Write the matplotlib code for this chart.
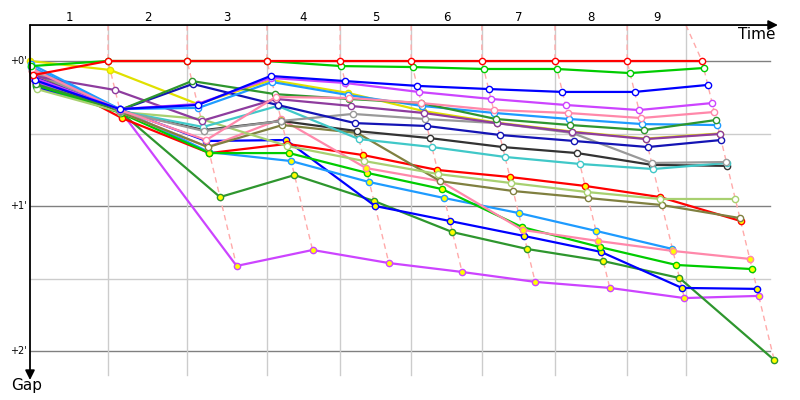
import numpy as np
import matplotlib.pyplot as plt

# leader elapsed time (minutes) at start and at the end of laps 1..9
lap_times = [0.0, 2.23, 4.49, 6.77, 8.86, 10.89, 12.91, 15.0, 17.06, 19.2]
# lap boundaries drawn on the time axis
grid_times = [2.23, 4.49, 6.77, 8.86, 10.89, 12.91, 15.0, 17.06, 18.74]
lap_labels = ['1', '2', '3', '4', '5', '6', '7', '8', '9']
gap_ticks = [0, 1, 2]
gap_tick_labels = ["+0'", "+1'", "+2'"]

# gap to leader in seconds: start, lap 1 .. lap 9
red = [5.8, 0, 0, 0, 0, 0, 0, 0, 0, 0]
green = [2.1, 0, 0, 0, 2.1, 2.5, 3.3, 3.3, 5.0, 2.9]
blue = [7.9, 19.9, 18.2, 6.2, 8.3, 10.3, 11.6, 12.8, 12.8, 9.9]
violet = [7.0, 19.9, 17.8, 7.0, 9.1, 12.8, 15.7, 18.2, 20.3, 17.4]
yellow = [0.0, 3.7, 17.8, 7.9, 13.2, 20.7, 25.5, 29.2, 32.1, 30.0]
pink = [3.3, 20.3, 32.7, 14.9, 15.3, 17.4, 20.3, 21.5, 23.6, 21.1]
lightblue = [1.2, 19.9, 19.4, 8.7, 14.1, 18.6, 21.5, 24.0, 26.1, 26.5]
darkgreen = [9.5, 20.3, 8.3, 13.7, 15.7, 17.4, 24.0, 26.5, 28.6, 24.4]
purple = [6.2, 12.0, 24.8, 15.7, 18.6, 21.5, 25.7, 29.4, 32.3, 30.2]
navy = [6.6, 20.3, 9.5, 18.2, 25.7, 26.9, 30.6, 33.1, 35.6, 32.7]
grey = [4.6, 20.7, 29.0, 24.8, 21.9, 24.0, 25.7, 29.8, 42.2, 41.8]
black = [7.4, 20.7, 28.6, 24.8, 29.0, 31.9, 35.6, 38.1, 43.0, 43.4]
cyan = [3.7, 20.7, 27.3, 18.6, 32.3, 35.6, 39.7, 42.6, 44.7, 42.2]
lightgreen = [11.6, 21.1, 24.0, 35.2, 41.4, 46.8, 50.5, 54.2, 57.1, 57.1]
olive = [5.0, 21.1, 35.6, 26.5, 29.8, 49.7, 53.8, 56.7, 59.6, 65.0]
red2 = [4.1, 23.6, 38.1, 34.3, 38.9, 45.1, 48.0, 51.7, 56.3, 66.2]
pink2 = [5.4, 21.1, 35.6, 24.0, 44.3, 49.7, 69.9, 74.5, 78.6, 81.9]
green2 = [9.9, 21.5, 38.1, 38.1, 46.3, 53.0, 68.7, 77.0, 84.4, 86.1]
lightblue2 = [2.5, 19.9, 37.7, 41.4, 50.1, 56.7, 62.9, 70.3, 77.8, np.nan]
blue2 = [11.2, 19.9, 33.1, 32.7, 60.0, 66.2, 72.4, 79.0, 93.9, 94.3]
darkgreen2 = [10.3, 21.1, 56.3, 47.2, 57.9, 70.8, 77.8, 82.8, 89.8, 123.7]
violet2 = [8.7, 20.3, 84.8, 78.2, 83.6, 87.3, 91.4, 93.9, 98.1, 97.2]

# (gaps, line colour, marker fill) - drawn bottom of the field first
drivers = [
    (violet2, '#cc44ff', '#ffff00'),
    (darkgreen2, '#2e962e', '#ffff00'),
    (blue2, '#0000ff', '#ffff00'),
    (red2, '#ff0000', '#ffff00'),
    (lightblue2, '#1e9bff', '#ffff00'),
    (green2, '#00cc00', '#ffff00'),
    (pink2, '#ff88aa', '#ffff00'),
    (olive, '#808040', 'white'),
    (lightgreen, '#a8d070', 'white'),
    (black, '#333333', 'white'),
    (cyan, '#40c8c8', 'white'),
    (yellow, '#e0e000', '#ffff00'),
    (grey, '#999999', 'white'),
    (navy, '#1414b4', 'white'),
    (purple, '#8e3c9e', 'white'),
    (lightblue, '#1e9bff', 'white'),
    (darkgreen, '#2e962e', 'white'),
    (pink, '#ff88aa', 'white'),
    (violet, '#cc44ff', 'white'),
    (blue, '#0000ff', 'white'),
    (green, '#00cc00', 'white'),
    (red, '#ff0000', 'white'),
]

t_end = 21.37      # time axis arrow tip
grid_end = 21.14   # horizontal grid extent
gap_top = -0.248   # time axis sits above gap 0
gap_bottom = 2.166

fig = plt.figure(figsize=(8, 4), dpi=100)
ax = fig.add_axes([0, 0, 1, 1])
ax.set_xlim(-30 / 35, 770 / 35)
ax.set_ylim(339 / 145, -61 / 145)
ax.axis('off')

# grid
for g in [0.5, 1.5]:
    ax.plot([0, grid_end], [g, g], color='#cccccc', lw=1, zorder=1)
for g in gap_ticks:
    ax.plot([0, grid_end], [g, g], color='#808080', lw=1, zorder=1)
for t in grid_times:
    ax.plot([t, t], [gap_top, gap_bottom], color='#cccccc', lw=1, zorder=1)

# convert to minutes
tt = np.array(lap_times)
pts = []
for gaps, col, fill in drivers:
    g = np.array(gaps, dtype=float) / 60.0
    pts.append((tt + g, g))

# dashed lap lines linking each lap's points in gap order
for k in range(1, len(lap_times)):
    xs, ys = [], []
    for x, g in pts:
        if not np.isnan(g[k]):
            xs.append(x[k])
            ys.append(g[k])
    order = np.argsort(ys)
    lx = [grid_times[k - 1]] + [xs[i] for i in order]
    ly = [gap_top] + [ys[i] for i in order]
    ax.plot(lx, ly, color='#ffaaaa', lw=1, ls=(0, (4, 3)), zorder=2)

for (x, g), (gaps, col, fill) in zip(pts, drivers):
    ax.plot(x, g, color=col, lw=1.6, marker='o', ms=4.5, mfc=fill,
            mec=col, mew=1, zorder=3)

# axes with arrows
ax.annotate('', xy=(t_end, gap_top), xytext=(0, gap_top),
            arrowprops=dict(arrowstyle='-|>', color='black', lw=1.3,
                            mutation_scale=14, shrinkA=0, shrinkB=0), zorder=5)
ax.annotate('', xy=(0, 2.2), xytext=(0, gap_top),
            arrowprops=dict(arrowstyle='-|>', color='black', lw=1.3,
                            mutation_scale=14, shrinkA=0, shrinkB=0), zorder=5)

ax.text(21.31, -0.18, 'Time', ha='right', va='center', fontsize=11)
ax.text(-0.11, 2.24, 'Gap', ha='center', va='center', fontsize=11)
for g, lab in zip(gap_ticks, gap_tick_labels):
    ax.text(-0.09, g, lab, ha='right', va='center', fontsize=7)
edges = [0.0] + grid_times
for i, lab in enumerate(lap_labels):
    ax.text((edges[i] + edges[i + 1]) / 2, -0.30, lab, ha='center',
            va='center', fontsize=8.5)

fig.savefig('out.png', dpi=100)
